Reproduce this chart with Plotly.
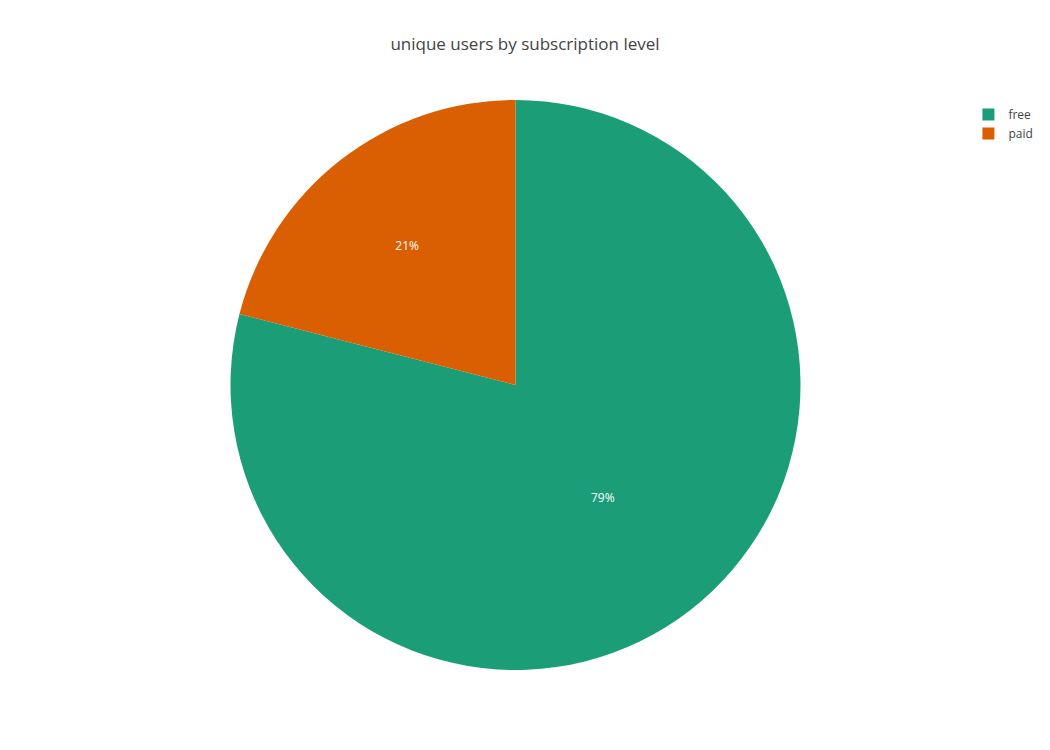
import plotly.graph_objects as go

labels = ["free", "paid"]
values = [79, 21]
colors = ["#1b9e77", "#d95f02"]

fig = go.Figure(go.Pie(
    labels=labels,
    values=values,
    marker=dict(colors=colors),
    direction="clockwise",
    sort=False,
    textinfo="percent",
))
fig.update_layout(
    template="none",
    title=dict(text="unique users by subscription level", x=0.5),
    font=dict(color="#444"),
    width=1050,
    height=750,
    paper_bgcolor="white",
)
fig.write_html("out.html", config={"displayModeBar": False},
               post_script="document.body.style.margin='0';")
